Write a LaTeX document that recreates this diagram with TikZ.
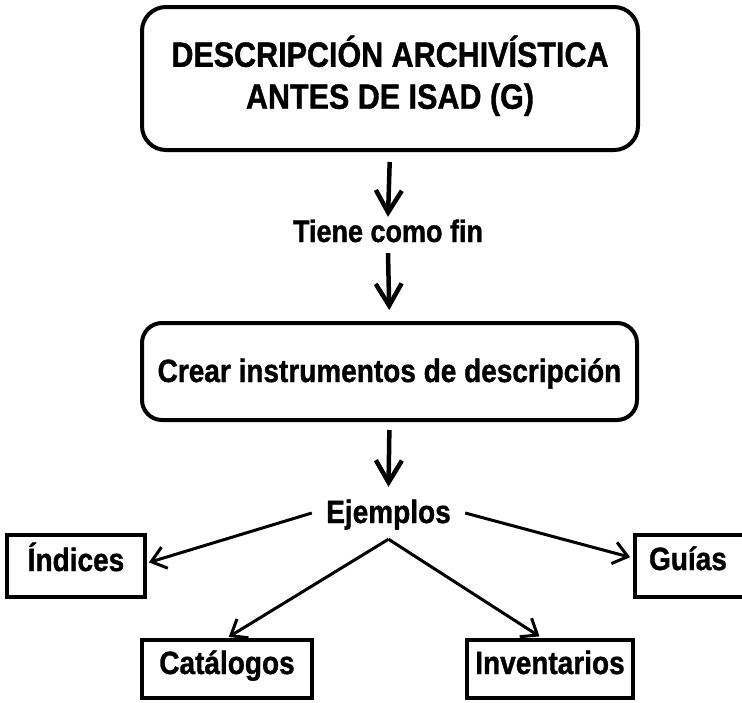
\documentclass[tikz,border=0pt]{standalone}
\usepackage{fontspec}
\setmainfont{Liberation Sans}[BoldFeatures={FakeBold=1.2}]
\usetikzlibrary{arrows.meta}
\newcommand{\stretchtxt}[1]{\scalebox{1}[1.15]{#1}}
\tikzset{
  roundbox/.style={draw=black, line width=4pt, rounded corners=24pt, inner sep=0pt},
  plainbox/.style={draw=black, line width=4pt, inner sep=0pt, text height=22pt, text depth=12pt},
  label text/.style={inner sep=0pt},
  bigarrow/.style={line width=4.5pt, -{Straight Barb[length=22pt,width=26pt]}},
  smallarrow/.style={line width=3pt, -{Straight Barb[length=14pt,width=22pt]}},
}
\begin{document}
\begin{tikzpicture}[x=1pt,y=-1pt, font=\bfseries\fontsize{28}{33}\selectfont]
\useasboundingbox (0,0) rectangle (742,702);
% top box
\node[roundbox, minimum width=496pt, minimum height=143pt] (top) at (390,78.5)
  {\stretchtxt{\fontsize{30.5}{36.5}\selectfont\begin{tabular}{@{}c@{}}DESCRIPCIÓN ARCHIVÍSTICA\\ANTES DE ISAD (G)\end{tabular}}};
\node[label text, minimum width=190pt, minimum height=36pt, text height=24pt, text depth=10pt] (tiene) at (388,235)
  {\stretchtxt{\fontsize{27}{32}\selectfont Tiene como fin}};
\node[roundbox, rounded corners=20pt, minimum width=495pt, minimum height=97pt, text height=30pt, text depth=9pt] (mid) at (389.5,371.5)
  {\stretchtxt{Crear instrumentos de descripción}};
\node[label text, minimum width=153pt, minimum height=52pt, text height=30pt, text depth=10pt] (ej) at (388.5,513)
  {\stretchtxt{Ejemplos}};
\node[plainbox, minimum width=138pt, minimum height=62pt] (ind) at (76,566)
  {\stretchtxt{Índices}};
\node[plainbox, minimum width=130pt, minimum height=62pt, anchor=west, text height=20pt] (gui) at (633,566)
  {\hspace*{-24pt}\stretchtxt{Guías}};
\node[plainbox, minimum width=170pt, minimum height=58pt] (cat) at (227,669)
  {\stretchtxt{Catálogos}};
\node[plainbox, minimum width=166pt, minimum height=58pt] (inv) at (550,669)
  {\stretchtxt{Inventarios}};
% connectors
\draw[bigarrow, shorten <=10pt] (top.south) -- (tiene.north);
\draw[bigarrow, shorten >=11pt] (tiene.south) -- (mid.north);
\draw[bigarrow, shorten <=8pt] (mid.south) -- (ej.north);
\draw[smallarrow, shorten >=2pt] (ej.west) -- ([yshift=3pt]ind.east);
\draw[smallarrow, shorten >=3pt] (ej.east) -- ([yshift=8pt]gui.west);
\draw[smallarrow, shorten >=2pt] (ej.south) -- (cat.north);
\draw[smallarrow, shorten >=3pt] (ej.south) -- ([xshift=-8pt]inv.north);
\end{tikzpicture}
\end{document}
